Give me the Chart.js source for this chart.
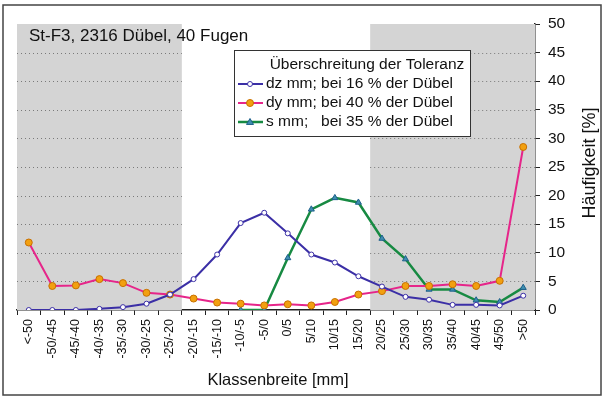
<!DOCTYPE html>
<html>
<head>
<meta charset="utf-8">
<script src="https://cdn.jsdelivr.net/npm/chart.js@4/dist/chart.umd.min.js"></script>
<style>
  html, body { margin: 0; padding: 0; background: #fff; }
  #wrap { width: 605px; height: 399px; position: relative; }
</style>
</head>
<body>
<div id="wrap"><canvas id="chart" width="605" height="399"></canvas></div>
<script>
// Klassen (x-Achse)
const labels = ['<-50', '-50/-45', '-45/-40', '-40/-35', '-35/-30', '-30/-25', '-25/-20',
    '-20/-15', '-15/-10', '-10/-5', '-5/0', '0/5', '5/10', '10/15', '15/20',
    '20/25', '25/30', '30/35', '35/40', '40/45', '45/50', '>50'];

// Häufigkeit [%]
const dzValues = [0, 0, 0, 0.2, 0.5, 1.1, 2.7, 5.4, 9.7, 15.2, 17.0, 13.4, 9.7, 8.3, 5.9, 4.1, 2.3, 1.8, 0.9, 0.9, 0.8, 2.5];
const dyValues = [11.8, 4.2, 4.3, 5.4, 4.7, 3.0, 2.7, 2.0, 1.3, 1.1, 0.8, 1.0, 0.8, 1.4, 2.7, 3.3, 4.2, 4.2, 4.5, 4.2, 5.1, 28.5];
const sValues = [null, null, null, null, null, null, null, null, null, 0, 0, 9.1, 17.6, 19.6, 18.8, 12.5, 8.9, 3.6, 3.6, 1.7, 1.4, 3.9];

const yTicks = [0, 5, 10, 15, 20, 25, 30, 35, 40, 45, 50];
// Bereiche außerhalb der Toleranz (Index der Klassen)
const grayLeft = [0, 6];
const grayRight = [15, 21];

const FONT = 'Liberation Sans, Arial, sans-serif';

const decor = {
    id: 'decor',
    beforeDatasetsDraw(chart) {
        const ctx = chart.ctx, x = chart.scales.x, y = chart.scales.y;
        const half = (x.getPixelForValue(1) - x.getPixelForValue(0)) / 2;
        const top = y.getPixelForValue(50), bottom = y.getPixelForValue(0);
        ctx.save();
        [grayLeft, grayRight].forEach(r => {
            const x0 = x.getPixelForValue(r[0]) - half;
            const x1 = x.getPixelForValue(r[1]) + half;
            ctx.fillStyle = '#d4d4d4';
            ctx.fillRect(x0, top, x1 - x0, bottom - top);
            ctx.strokeStyle = '#7a7a7a';
            ctx.lineWidth = 1;
            ctx.setLineDash([1, 3]);
            yTicks.slice(1, -1).forEach(v => {
                const py = Math.round(y.getPixelForValue(v)) + 0.5;
                ctx.beginPath();
                ctx.moveTo(x0, py);
                ctx.lineTo(x1, py);
                ctx.stroke();
            });
        });
        ctx.restore();
    },
    afterDraw(chart) {
        const ctx = chart.ctx;
        ctx.save();
        // Rahmen
        ctx.strokeStyle = '#444';
        ctx.lineWidth = 1.5;
        ctx.strokeRect(3, 5, 598, 390);
        // Titel
        ctx.fillStyle = '#111';
        ctx.font = '17px ' + FONT;
        ctx.textBaseline = 'middle';
        ctx.fillText('St-F3, 2316 Dübel, 40 Fugen', 29, 36);
        // Achsentitel
        ctx.textAlign = 'center';
        ctx.font = '16.5px ' + FONT;
        ctx.fillText('Klassenbreite [mm]', 278, 380);
        ctx.save();
        ctx.translate(590, 163);
        ctx.rotate(-Math.PI / 2);
        ctx.font = '18px ' + FONT;
        ctx.fillText('Häufigkeit [%]', 0, 0);
        ctx.restore();
        // Legende
        const lx = 234, ly = 50, lw = 236, lh = 86;
        ctx.fillStyle = '#fff';
        ctx.fillRect(lx, ly, lw, lh);
        ctx.strokeStyle = '#333';
        ctx.lineWidth = 1;
        ctx.strokeRect(lx + 0.5, ly + 0.5, lw, lh);
        ctx.fillStyle = '#111';
        ctx.font = '15.5px ' + FONT;
        ctx.textAlign = 'center';
        ctx.fillText('Überschreitung der Toleranz', lx + 133, ly + 15);
        ctx.textAlign = 'left';
        chart.data.datasets.forEach((ds, i) => {
            const yy = ly + 34 + i * 19;
            ctx.strokeStyle = ds.borderColor;
            ctx.lineWidth = ds.borderWidth;
            ctx.beginPath();
            ctx.moveTo(lx + 4, yy);
            ctx.lineTo(lx + 29, yy);
            ctx.stroke();
            ctx.fillStyle = ds.pointBackgroundColor;
            ctx.strokeStyle = ds.pointBorderColor;
            ctx.lineWidth = 1;
            ctx.beginPath();
            const cx = lx + 16, r = ds.pointRadius;
            if (ds.pointStyle === 'triangle') {
                ctx.moveTo(cx, yy - r);
                ctx.lineTo(cx + r, yy + r * 0.7);
                ctx.lineTo(cx - r, yy + r * 0.7);
                ctx.closePath();
            } else {
                ctx.arc(cx, yy, r, 0, Math.PI * 2);
            }
            ctx.fill();
            ctx.stroke();
            ctx.fillStyle = '#111';
            ctx.fillText(ds.label, lx + 32, yy);
        });
        ctx.restore();
    }
};

new Chart(document.getElementById('chart').getContext('2d'), {
    type: 'line',
    data: {
        labels: labels,
        datasets: [
            {
                label: 'dz mm; bei 16 % der Dübel',
                data: dzValues,
                borderColor: '#3b2fa6',
                borderWidth: 2,
                pointStyle: 'circle',
                pointRadius: 2.5,
                pointBackgroundColor: '#ffffff',
                pointBorderColor: '#3b2fa6',
                pointBorderWidth: 1,
                tension: 0
            },
            {
                label: 'dy mm; bei 40 % der Dübel',
                data: dyValues,
                borderColor: '#e6258a',
                borderWidth: 2,
                pointStyle: 'circle',
                pointRadius: 3.5,
                pointBackgroundColor: '#f2a010',
                pointBorderColor: '#c87000',
                pointBorderWidth: 1,
                tension: 0
            },
            {
                label: 's mm;   bei 35 % der Dübel',
                data: sValues,
                borderColor: '#178a42',
                borderWidth: 2.5,
                pointStyle: 'triangle',
                pointRadius: 3.5,
                pointBackgroundColor: '#3f8fb0',
                pointBorderColor: '#1d5f8a',
                pointBorderWidth: 1,
                tension: 0
            }
        ]
    },
    options: {
        responsive: false,
        animation: false,
        layout: { padding: { left: 17, top: 24, right: 6, bottom: 9 } },
        plugins: {
            legend: { display: false },
            tooltip: { enabled: false }
        },
        scales: {
            x: {
                offset: true,
                grid: { offset: true, drawOnChartArea: false, drawTicks: true, tickLength: 5, color: '#222' },
                border: { color: '#222', width: 1.5 },
                ticks: {
                    autoSkip: false, minRotation: 90, maxRotation: 90,
                    color: '#111', font: { family: FONT, size: 12.5 }, padding: 4
                },
                afterFit: s => { s.height = 80; }
            },
            y: {
                position: 'right',
                min: 0, max: 50,
                afterBuildTicks: s => { s.ticks = yTicks.map(v => ({ value: v })); },
                grid: { drawOnChartArea: false, drawTicks: true, tickLength: 5, color: '#222' },
                border: { color: '#222', width: 1.5 },
                ticks: { color: '#111', font: { family: FONT, size: 15.5 }, padding: 8 },
                afterFit: s => { s.width = 64; }
            }
        }
    },
    plugins: [decor]
});
</script>
</body>
</html>
